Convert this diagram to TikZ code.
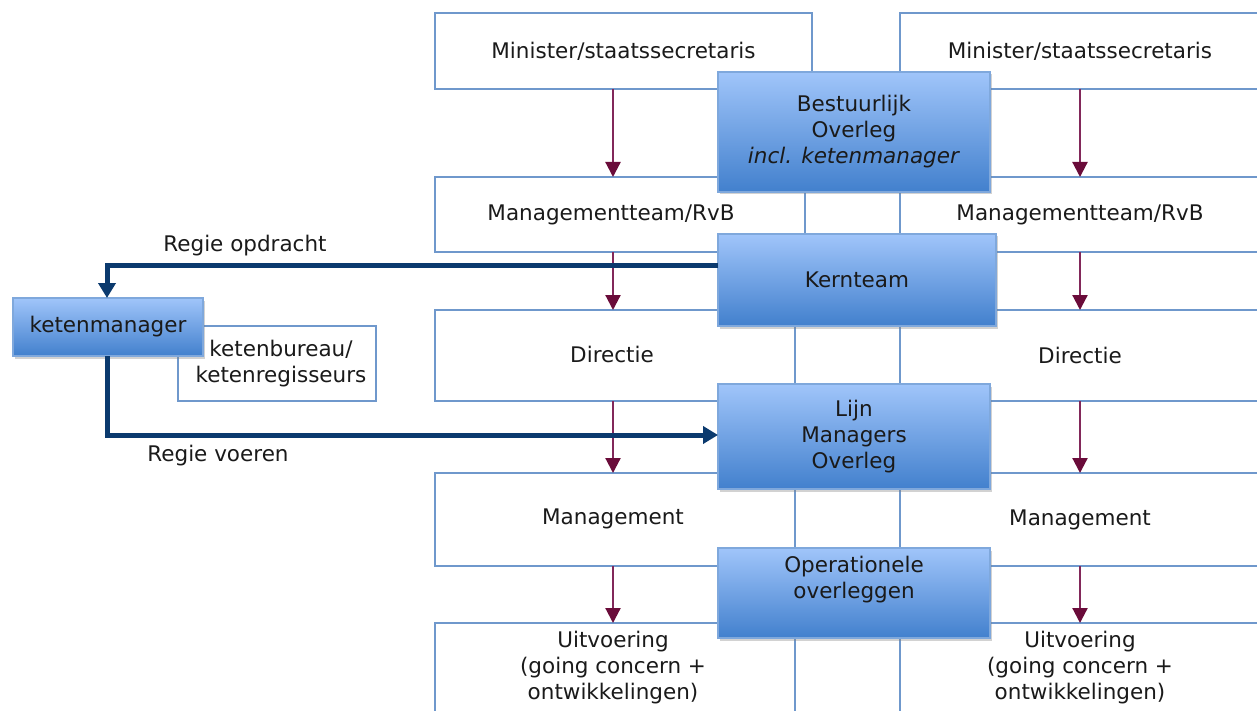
\documentclass[tikz,border=0pt]{standalone}
\usepackage{fontspec}
\setmainfont{DejaVu Sans}
\usetikzlibrary{arrows.meta,shadows}
\definecolor{boxline}{HTML}{6F98CC}
\definecolor{arrowcol}{HTML}{82285A}
\definecolor{arrowhead}{HTML}{6A0C3A}
\definecolor{navy}{HTML}{0B3A6E}
\definecolor{btop}{HTML}{A0C5FA}
\definecolor{bbot}{HTML}{4280CD}
\definecolor{bedge}{HTML}{7FA8DC}
\definecolor{txt}{HTML}{1A1A1A}
\tikzset{
  base/.style={inner sep=0pt, outer sep=0pt, align=center, text=txt,
    font=\fontsize{21.5}{26}\selectfont},
  wbox/.style={base, draw=boxline, line width=2pt, fill=white},
  bbox/.style={base, draw=bedge, line width=1.2pt, top color=btop, bottom color=bbot,
    drop shadow={shadow xshift=2pt, shadow yshift=-2.5pt, opacity=0.35, fill=gray}},
  ttext/.style={base},
  marrow/.style={draw=arrowcol, line width=2.2pt,
    -{Triangle[length=15pt,width=15pt,color=arrowhead]}},
  narrow/.style={draw=navy, line width=5pt, -{Triangle[length=15pt,width=17pt]}}
}
\begin{document}
\begin{tikzpicture}[x=1pt,y=-1pt]
\useasboundingbox (0,0) rectangle (1257,711);
\fill[white] (0,0) rectangle (1257,711);
% left column
\node[wbox, minimum width=377pt, minimum height=76pt] (lmin) at (623.5,51) {Minister/staatssecretaris};
\node[wbox, minimum width=370pt, minimum height=75pt] (lmt) at (620,214.5) {};
\node[ttext] (lmtt) at (611,215) {Managementteam/RvB};
\node[wbox, minimum width=360pt, minimum height=91pt] (ldir) at (615,355.5) {};
\node[ttext] (ldirt) at (612,354) {Directie};
\node[wbox, minimum width=360pt, minimum height=93pt] (lman) at (615,519.5) {};
\node[ttext] (lmant) at (613,519) {Management};
\node[wbox, minimum width=360pt, minimum height=93pt] (luit) at (615,669.5) {};
\node[ttext] (luitt) at (613,668) {Uitvoering\\(going concern +\\ontwikkelingen)};
% right column
\node[wbox, minimum width=360pt, minimum height=76pt] (rmin) at (1080,51) {Minister/staatssecretaris};
\node[wbox, minimum width=360pt, minimum height=75pt] (rmt) at (1080,214.5) {Managementteam/RvB};
\node[wbox, minimum width=360pt, minimum height=91pt] (rdir) at (1080,355.5) {Directie};
\node[wbox, minimum width=360pt, minimum height=93pt] (rman) at (1080,519.5) {Management};
\node[wbox, minimum width=360pt, minimum height=93pt] (ruit) at (1080,669.5) {};
\node[ttext] (ruitt) at (1080,668) {Uitvoering\\(going concern +\\ontwikkelingen)};
% vertical arrows
\coordinate (axl) at (613,0);
\coordinate (axr) at (1080,0);
\foreach \a/\b in {lmin/lmt, lmt/ldir, ldir/lman, lman/luit}{
  \draw[marrow] (\a.south -| axl) -- (\b.north -| axl);
}
\foreach \a/\b in {rmin/rmt, rmt/rdir, rdir/rman, rman/ruit}{
  \draw[marrow] (\a.south -| axr) -- (\b.north -| axr);
}
% left side
\node[wbox, minimum width=198pt, minimum height=75pt] (kb) at (277,363.5) {};
\node[ttext] (kbt) at (281,364) {ketenbureau/\\ketenregisseurs};
\node[bbox, minimum width=190pt, minimum height=58pt] (km) at (108,327) {ketenmanager};
% blue boxes
\node[bbox, minimum width=272pt, minimum height=120pt] (bo) at (854,132) {Bestuurlijk\\Overleg\\\textit{incl. ketenmanager}};
\node[bbox, minimum width=278pt, minimum height=92pt] (kt) at (857,280) {Kernteam};
\node[bbox, minimum width=272pt, minimum height=105pt] (lmo) at (854,436.5) {Lijn\\Managers\\Overleg};
\node[bbox, minimum width=272pt, minimum height=90pt] (oo) at (854,593) {};
\node[ttext] (oot) at (854,579.5) {Operationele\\overleggen};
% navy connectors
\coordinate (c1) at (107,265);
\coordinate (c2) at (107,435);
\draw[narrow] ([yshift=15pt]kt.west) -- (c1) -- (km.north -| c1);
\draw[narrow] (km.south -| c1) -- (c2) -- ([yshift=1.5pt]lmo.west);
\node[ttext] (lro) at (245,246) {Regie opdracht};
\node[ttext] (lrv) at (218,456) {Regie voeren};
\end{tikzpicture}
\end{document}
